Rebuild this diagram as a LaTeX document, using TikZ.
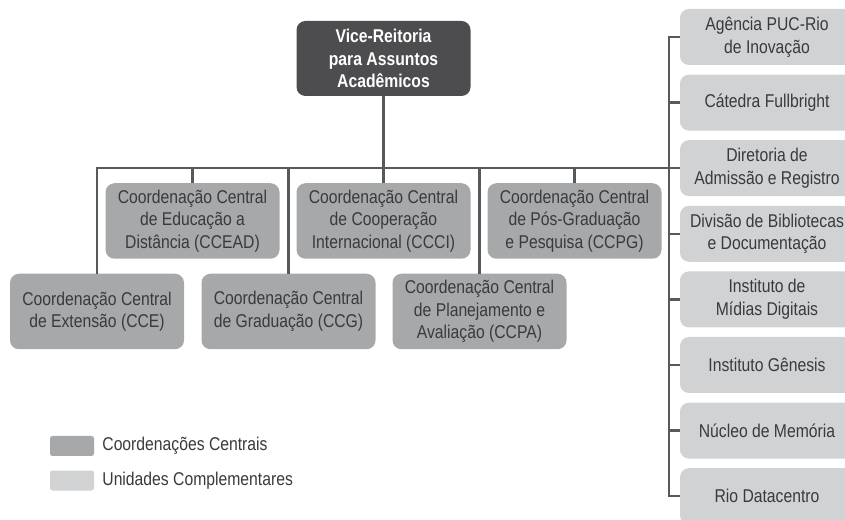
\documentclass[tikz,border=0pt]{standalone}
\usepackage{fontspec}
\setmainfont{Liberation Sans}[FakeStretch=0.85]
\usetikzlibrary{positioning}

\definecolor{vrcor}{HTML}{4D4D4F}
\definecolor{centralcor}{HTML}{A7A8AA}
\definecolor{unidcor}{HTML}{D1D2D4}
\definecolor{linhacor}{HTML}{58595B}
\definecolor{textocor}{HTML}{3A3A3C}

\tikzset{
  caixa/.style={rounded corners=9pt, align=center, minimum width=174pt,
    font=\fontsize{18.5}{22.5}\selectfont, text=textocor},
  reitoria/.style={caixa, fill=vrcor, text=white, minimum height=75pt,
    font=\fontsize{18.5}{22.5}\selectfont\bfseries},
  central/.style={caixa, fill=centralcor, minimum height=75.5pt},
  unidade/.style={caixa, fill=unidcor, minimum height=56pt},
  linha/.style={draw=linhacor, line width=2.5pt},
  amostra/.style={rounded corners=2.5pt, minimum width=44pt, minimum height=20pt, inner sep=0pt},
  legenda/.style={inner sep=0pt, text=textocor, font=\fontsize{18.5}{22.5}\selectfont}
}

\begin{document}
\begin{tikzpicture}[x=1pt, y=1pt]
  \useasboundingbox[fill=white] (0, 0) rectangle (845, 519);

  \node[reitoria] (vra) at (383.5, 460.5) {Vice-Reitoria\\para Assuntos\\Acadêmicos};

  % coordenacoes centrais
  \node[central] (ccead) at (192.5, 298) {Coordenação Central\\de Educação a\\Distância (CCEAD)};
  \node[central] (ccci)  at (383.5, 298) {Coordenação Central\\de Cooperação\\Internacional (CCCI)};
  \node[central] (ccpg)  at (574.5, 298) {Coordenação Central\\de Pós-Graduação\\e Pesquisa (CCPG)};
  \node[central] (cce)   at (97, 207.5)  {Coordenação Central\\de Extensão (CCE)};
  \node[central] (ccg)   at (288.5, 207.5) {Coordenação Central\\de Graduação (CCG)};
  \node[central] (ccpa)  at (479.5, 207.5) {Coordenação Central\\de Planejamento e\\Avaliação (CCPA)};

  % unidades complementares
  \foreach \t [count=\i] in {{Agência PUC-Rio\\de Inovação}, {Cátedra Fullbright},
      {Diretoria de\\Admissão e Registro}, {Divisão de Bibliotecas\\e Documentação},
      {Instituto de\\Mídias Digitais}, {Instituto Gênesis}, {Núcleo de Memória},
      {Rio Datacentro}}
    \node[unidade] (u\i) at (767, {482 - 65.6 * (\i - 1)}) {\t};

  \draw[linha] (cce.north) |- (u3.west);
  \draw[linha] (vra.south) -- (ccci.north);
  \foreach \n in {ccead, ccg, ccpa, ccpg}
    \draw[linha] (\n.north) -- (\n.north |- u3.west);
  \draw[linha] (u1.west) -- ++(-11, 0) |- (u8.west);
  \foreach \i in {2, 4, 5, 6, 7}
    \draw[linha] (u\i.west) -- ++(-11, 0);

  % legenda
  \node[amostra, fill=centralcor] (lc) at (72, 73) {};
  \node[legenda, right=8pt of lc] {Coordenações Centrais};
  \node[amostra, fill=unidcor] (lu) at (72, 38.5) {};
  \node[legenda, right=8pt of lu] {Unidades Complementares};
\end{tikzpicture}
\end{document}
